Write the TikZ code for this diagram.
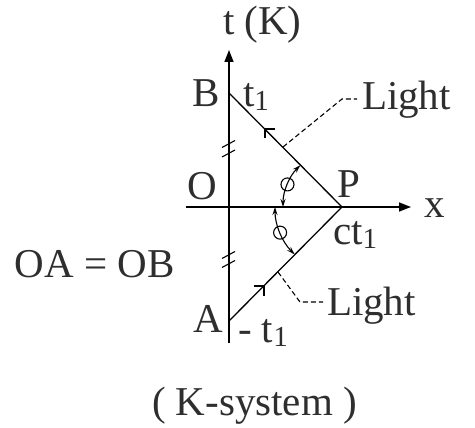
\documentclass[tikz,border=0pt]{standalone}
\usepackage{fontspec}
\setmainfont{Liberation Serif}
\usetikzlibrary{arrows.meta,calc}
\newcommand{\lowidx}[1]{\raisebox{-4pt}{\fontsize{29}{30}\selectfont #1}}
\definecolor{txt}{HTML}{2E2E2E}
\tikzset{
  lbl/.style={anchor=base west,inner sep=0pt,outer sep=0pt,text=txt,font=\fontsize{41}{48}\selectfont},
  axisline/.style={line width=1.4pt,-{Triangle[length=12pt,width=9pt]}},
  lightline/.style={line width=1.3pt},
  leader/.style={line width=1.1pt,dash pattern=on 5pt off 3pt},
  anglearc/.style={line width=1.1pt,{Stealth[length=8pt,width=5pt]}-{Stealth[length=8pt,width=5pt]}},
  hash/.style={line width=1.1pt},
  barb/.style={line width=1.1pt}
}
\begin{document}
\begin{tikzpicture}[x=1pt,y=-1pt]
\useasboundingbox (0,0) rectangle (475,428);
% key points
\coordinate (O) at (229,207);
\coordinate (B) at (229,93);
\coordinate (A) at (229,321);
\coordinate (P) at (342,207);
\coordinate (ytop) at (229,50);
\coordinate (ybot) at (229,343);
\coordinate (xl) at (186,207);
\coordinate (xr) at (411,207);
% axes
\draw[axisline] (ybot) -- (ytop);
\draw[axisline] (xl) -- (xr);
% light lines
\draw[lightline] (B) -- (P) -- (A);
% arrow marks on the light lines
\coordinate (ub) at (265,129);
\coordinate (lb) at (264,286);
\draw[barb] ($(ub)+(10,0)$) -- (ub) -- ($(ub)+(0,9)$);
\draw[barb] ($(lb)+(-10,0)$) -- (lb) -- ($(lb)+(0,10)$);
% hash marks
\foreach \yy in {144,153.5,255,264}
  \draw[hash] (222,\yy+3.5) -- (235,\yy-3.5);
% angle arcs
\draw[anglearc] ($(P)+(180:59)$) arc[start angle=180,end angle=225,radius=59];
\draw[anglearc] ($(P)+(180:67)$) arc[start angle=180,end angle=135,radius=67];
\draw[line width=1.1pt] ($(P)+(202.5:59)$) circle[radius=6.5];
\draw[line width=1.1pt] ($(P)+(157.5:67)$) circle[radius=6.5];
% leaders
\coordinate (lu1) at (283,147);
\coordinate (lu2) at (342,99);
\coordinate (lu3) at (357,99);
\coordinate (ll1) at (278,272);
\coordinate (ll2) at (300,302);
\coordinate (ll3) at (323,302);
\draw[leader] (lu1) -- (lu2) -- (lu3);
\draw[leader] (ll1) -- (ll2) -- (ll3);
% labels
\node[lbl] (tK) at (223,35) {t (K)};
\node[lbl] (Blbl) at (192,107) {B};
\node[lbl] (t1) at (243,107) {t\lowidx{1}};
\node[lbl] (Olbl) at (187,200) {O};
\node[lbl] (Plbl) at (337,197) {P};
\node[lbl] (xlbl) at (424,218) {x};
\node[lbl] (ct1) at (333,245) {ct\lowidx{1}};
\node[lbl] (OAOB) at (15,277) {OA = OB};
\node[lbl] (Albl) at (193,332) {A};
\node[lbl] (mt1) at (238,342) {- t\lowidx{1}};
\node[lbl] (light1) at (362,110) {Light};
\node[lbl] (light2) at (327,316) {Light};
\node[lbl] (ksys) at (152,415) {( K-system )};
\end{tikzpicture}
\end{document}
